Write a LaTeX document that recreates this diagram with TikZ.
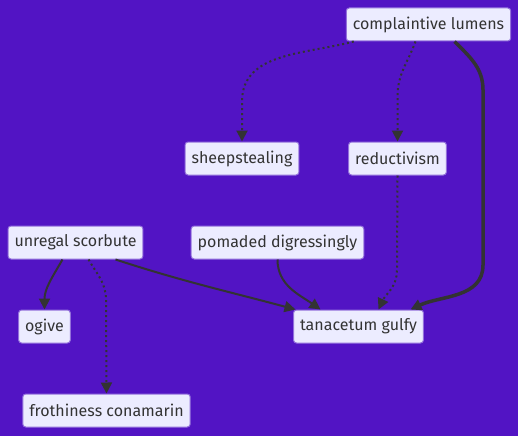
\documentclass[tikz,border=0pt]{standalone}
\usepackage{fontspec}
\setmainfont{Fira Sans}
\usetikzlibrary{arrows.meta,positioning}
\definecolor{bgpurple}{RGB}{82,20,196}
\definecolor{boxfill}{RGB}{236,236,255}
\definecolor{boxline}{RGB}{147,112,219}
\definecolor{inkgray}{RGB}{51,51,51}
\tikzset{
  entity/.style={draw=boxline, fill=boxfill, line width=1pt, rounded corners=3pt,
    text=inkgray, font=\fontsize{16}{19}\selectfont, minimum height=33pt, inner xsep=6.5pt},
  link/.style={draw=inkgray, line width=2pt, -{Triangle[length=11pt,width=11pt]}},
  dotlink/.style={link, dash pattern=on 2pt off 3pt},
  heavylink/.style={link, line width=3.5pt}
}
\begin{document}
\begin{tikzpicture}[x=1pt,y=-1pt]
    \fill[bgpurple] (0,0) rectangle (518,436);

    \node[entity] (cl) at (428.5,24.5) {complaintive lumens};
    \node[entity] (sh) at (242,158.5) {sheepstealing};
    \node[entity] (rd) at (397.5,158.5) {reductivism};
    \node[entity] (us) at (75.5,242.5) {unregal scorbute};
    \node[entity] (pd) at (277.5,242.5) {pomaded digressingly};
    \node[entity] (og) at (44.5,326.5) {ogive};
    \node[entity] (tg) at (358.5,326.5) {tanacetum gulfy};
    \node[entity] (fc) at (106.5,410.5) {frothiness conamarin};

    \draw[dotlink] ([xshift=8pt]cl.south west) to[out=195,in=90] ([yshift=40pt]sh.north) -- (sh.north);
    \draw[dotlink] ([xshift=-13pt]cl.south) to[out=250,in=90] ([yshift=45pt]rd.north) -- (rd.north);
    \draw[heavylink] ([xshift=26pt]cl.south) to[out=-45,in=90] (483,90) -- (483,265)
        to[out=-90,in=25] ([xshift=52pt]tg.north);
    \draw[dotlink] (rd.south) -- (397,270) to[out=-90,in=65] ([xshift=20pt]tg.north);
    \draw[link] (pd.south) to[out=-90,in=145] ([xshift=-38pt]tg.north);
    \draw[link] ([xshift=40pt]us.south) to[out=-18,in=165] ([xshift=-63pt]tg.north);
    \draw[link] ([xshift=-13pt]us.south) to[out=-120,in=90] (og.north);
    \draw[dotlink] ([xshift=13pt]us.south) to[out=-60,in=90] (106,300) -- (fc.north);
\end{tikzpicture}
\end{document}
